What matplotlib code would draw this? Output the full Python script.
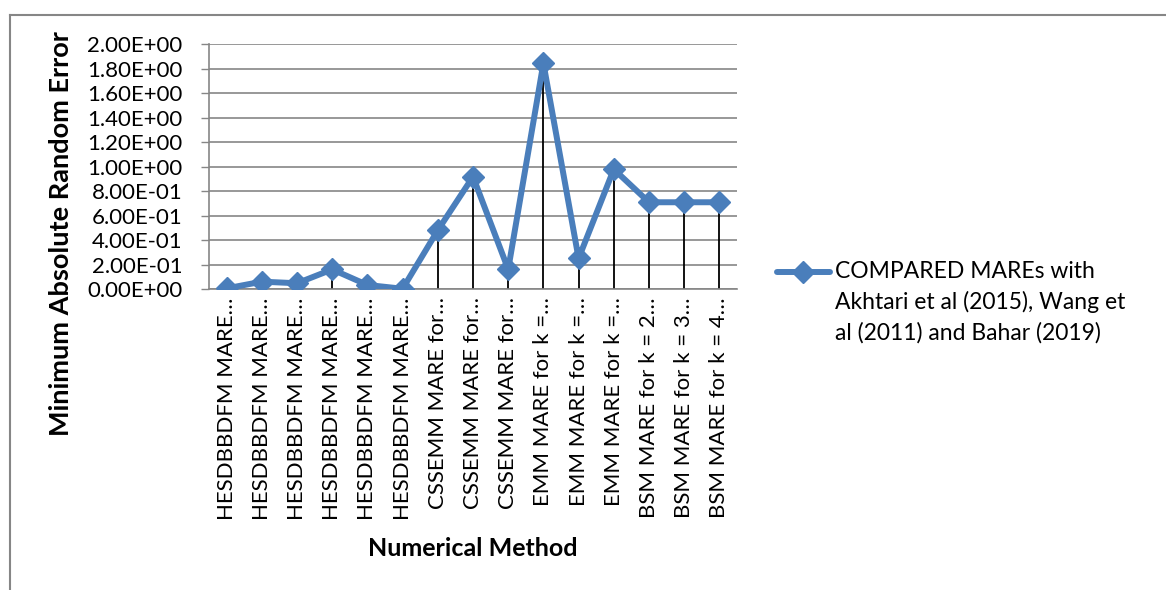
import matplotlib
matplotlib.use("Agg")
import matplotlib.pyplot as plt
from matplotlib.lines import Line2D

plt.rcParams['font.family'] = ['Lato', 'DejaVu Sans']

categories = [
    "HESDBBDFM MARE…", "HESDBBDFM MARE…", "HESDBBDFM MARE…",
    "HESDBBDFM MARE…", "HESDBBDFM MARE…", "HESDBBDFM MARE…",
    "CSSEMM MARE for…", "CSSEMM MARE for…", "CSSEMM MARE for…",
    "EMM MARE for k =…", "EMM MARE for k =…", "EMM MARE for k =…",
    "BSM MARE for k = 2…", "BSM MARE for k = 3…", "BSM MARE for k = 4…",
]
mare_values = [0.005, 0.060, 0.047, 0.160, 0.033, 0.002,
               0.480, 0.918, 0.161, 1.845, 0.250, 0.979,
               0.709, 0.709, 0.709]
y_ticks = [0.0, 0.2, 0.4, 0.6, 0.8, 1.0, 1.2, 1.4, 1.6, 1.8, 2.0]
series_label = "COMPARED MAREs with\nAkhtari et al (2015), Wang et\nal (2011) and Bahar (2019)"

W, H = 1166, 590
fig = plt.figure(figsize=(W / 100, H / 100), dpi=100)

# axes placement in pixels
ax_left, ax_right, ax_top, ax_bottom = 209, 737, 44.3, 289
ax = fig.add_axes([ax_left / W, 1 - ax_bottom / H,
                   (ax_right - ax_left) / W, (ax_bottom - ax_top) / H])

blue = '#4A7EBB'
grid_gray = '#868686'
x = list(range(len(categories)))
lw = 4.3
ms = 11.5

# drop lines from each point down to the category axis
ax.vlines(x, 0, mare_values, colors='black', linewidth=1.3, zorder=2)
ax.plot(x, mare_values, color=blue, linewidth=lw, marker='D',
        markersize=ms, markerfacecolor=blue, markeredgecolor=blue, zorder=3)

ax.set_xlim(-0.5, len(categories) - 0.5)
ax.set_ylim(0, 2.0)
ax.set_yticks(y_ticks)
ax.set_yticklabels([f"{v:.2E}" for v in y_ticks], fontsize=16)
ax.yaxis.grid(True, color=grid_gray, linewidth=1.2)
ax.set_axisbelow(True)
ax.tick_params(axis='y', length=6, color=grid_gray, width=1, pad=13)

ax.set_xticks(x)
ax.set_xticklabels(categories, rotation=90, fontsize=16, va='top')
ax.tick_params(axis='x', length=0, pad=6)

for side in ['top', 'right']:
    ax.spines[side].set_visible(False)
for side in ['left', 'bottom']:
    ax.spines[side].set_color(grid_gray)
    ax.spines[side].set_linewidth(1.2)

fig.text(61 / W, 1 - 234 / H, "Minimum Absolute Random Error", rotation=90,
         fontsize=19.5, fontweight='bold', ha='center', va='center')
fig.text(473 / W, 1 - 548 / H, "Numerical Method",
         fontsize=18, fontweight='bold', ha='center', va='center')

# legend entry
leg_y = 1 - 272 / H
fig.add_artist(Line2D([777 / W, 830 / W], [leg_y, leg_y], color=blue,
                      linewidth=lw, solid_capstyle='round'))
fig.add_artist(Line2D([803 / W], [leg_y], color=blue, marker='D',
                      markersize=ms, linestyle='none'))
fig.text(835 / W, 1 - 261 / H, series_label, fontsize=16.5,
         ha='left', va='top', linespacing=1.5)

# chart frame
fig.add_artist(Line2D([9.5 / W, 9.5 / W], [0, 1 - 14.5 / H], color=grid_gray, linewidth=1.5))
fig.add_artist(Line2D([9.5 / W, 1], [1 - 14.5 / H, 1 - 14.5 / H], color=grid_gray, linewidth=1.5))

fig.savefig("out.png", dpi=100)
